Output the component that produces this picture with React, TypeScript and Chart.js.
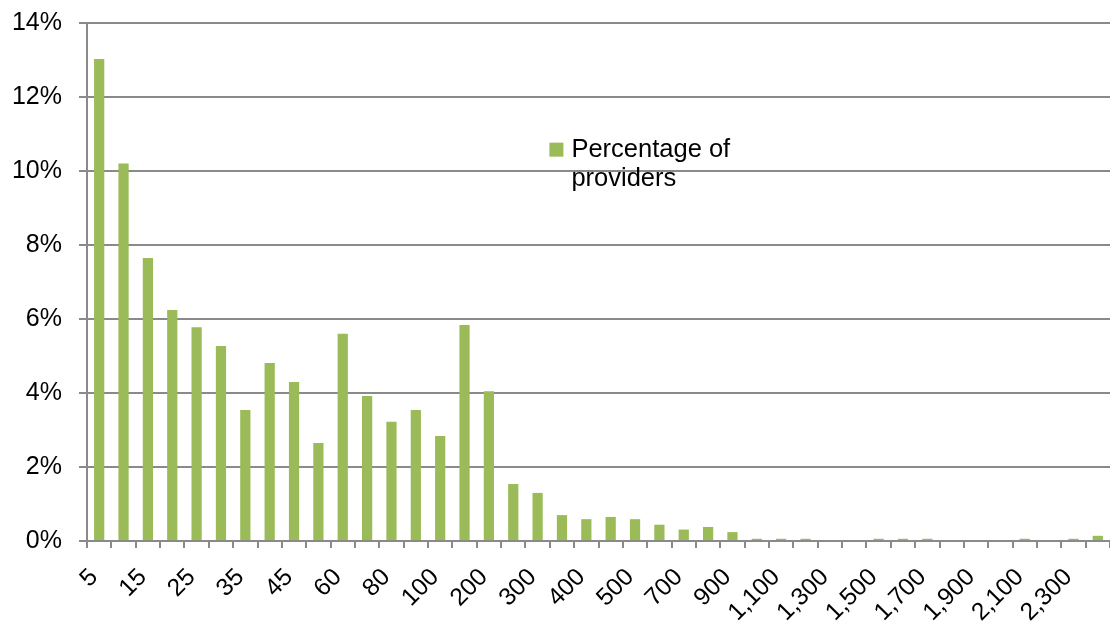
import React, { useEffect, useRef } from "react";
import { Chart, registerables } from "chart.js";

Chart.register(...registerables);

// Size bands (number of items) and the share of providers in each band
const categories: string[] = [
  "5", "10", "15", "20", "25", "30", "35", "40", "45", "50",
  "60", "70", "80", "90", "100", "150", "200", "250", "300", "350",
  "400", "450", "500", "600", "700", "800", "900", "1,000", "1,100", "1,200",
  "1,300", "1,400", "1,500", "1,600", "1,700", "1,800", "1,900", "2,000", "2,100", "2,200",
  "2,300", "2,400",
];

const percentageOfProviders: number[] = [
  13.03, 10.2, 7.65, 6.24, 5.78, 5.27, 3.54, 4.81, 4.3, 2.65,
  5.6, 3.92, 3.22, 3.54, 2.84, 5.84, 4.05, 1.54, 1.3, 0.7,
  0.59, 0.65, 0.59, 0.44, 0.31, 0.38, 0.24, 0.06, 0.06, 0.06,
  0, 0, 0.06, 0.06, 0.06, 0, 0, 0, 0.06, 0,
  0.06, 0.14,
];

const yTicks: number[] = [0, 2, 4, 6, 8, 10, 12, 14];

const seriesName: string[] = ["Percentage of", "providers"];

const BAR_COLOR = "#9BBB59";
const LINE_COLOR = "#8a8a8a";
const FONT = "'Liberation Sans', Arial, sans-serif";

// Legend drawn inside the plot area, text wrapped over two lines
const insideLegend = {
  id: "insideLegend",
  afterDraw(chart: any) {
    const { ctx, chartArea } = chart;
    const x = chartArea.left + (chartArea.right - chartArea.left) * 0.452;
    const y = chartArea.top + (chartArea.bottom - chartArea.top) * 0.231;
    ctx.save();
    ctx.fillStyle = BAR_COLOR;
    ctx.fillRect(x, y, 14, 14);
    ctx.fillStyle = "#000";
    ctx.font = `25.5px ${FONT}`;
    ctx.textAlign = "left";
    ctx.textBaseline = "alphabetic";
    seriesName.forEach((line, i) => {
      ctx.fillText(line, x + 22, y + 14 + i * 29);
    });
    ctx.restore();
  },
};

export default function App() {
  const canvasRef = useRef<HTMLCanvasElement | null>(null);

  useEffect(() => {
    if (!canvasRef.current) return;
    const chart = new Chart(canvasRef.current, {
      type: "bar",
      data: {
        labels: categories,
        datasets: [
          {
            label: seriesName.join(" "),
            data: percentageOfProviders,
            backgroundColor: BAR_COLOR,
            borderWidth: 0,
            barPercentage: 0.42,
            categoryPercentage: 1,
          },
        ],
      },
      options: {
        animation: false,
        responsive: true,
        maintainAspectRatio: false,
        layout: { padding: { top: 23, left: 0, right: 0, bottom: 0 } },
        plugins: {
          legend: { display: false },
          tooltip: { enabled: false },
        },
        scales: {
          x: {
            grid: {
              offset: true,
              drawOnChartArea: false,
              drawTicks: true,
              tickLength: 7,
              color: LINE_COLOR,
              lineWidth: 2,
            },
            border: { display: true, color: LINE_COLOR, width: 2 },
            ticks: {
              autoSkip: false,
              minRotation: 45,
              maxRotation: 45,
              padding: 15,
              labelOffset: -5,
              color: "#000",
              font: { family: FONT, size: 24.5 },
              callback: (_v: any, i: number) => (i % 2 === 0 ? categories[i] : ""),
            },
            afterFit: (scale: any) => {
              scale.height = 84;
              scale.paddingLeft = 0;
              scale.paddingRight = 0;
            },
          },
          y: {
            min: yTicks[0],
            max: yTicks[yTicks.length - 1],
            afterBuildTicks: (scale: any) => {
              scale.ticks = yTicks.map((v) => ({ value: v }));
            },
            grid: {
              color: LINE_COLOR,
              lineWidth: 2,
              drawTicks: true,
              tickLength: 8,
            },
            border: { display: true, color: LINE_COLOR, width: 2 },
            ticks: {
              padding: 17,
              color: "#000",
              font: { family: FONT, size: 25 },
              callback: (v: any) => `${v}%`,
            },
            afterFit: (scale: any) => {
              scale.width = 87;
              scale.paddingTop = 0;
              scale.paddingBottom = 0;
            },
          },
        },
      },
      plugins: [insideLegend],
    });
    return () => chart.destroy();
  }, []);

  return (
    <div style={{ position: "absolute", left: 0, top: 0, width: 1110, height: 625, background: "#fff" }}>
      <canvas ref={canvasRef} />
    </div>
  );
}
